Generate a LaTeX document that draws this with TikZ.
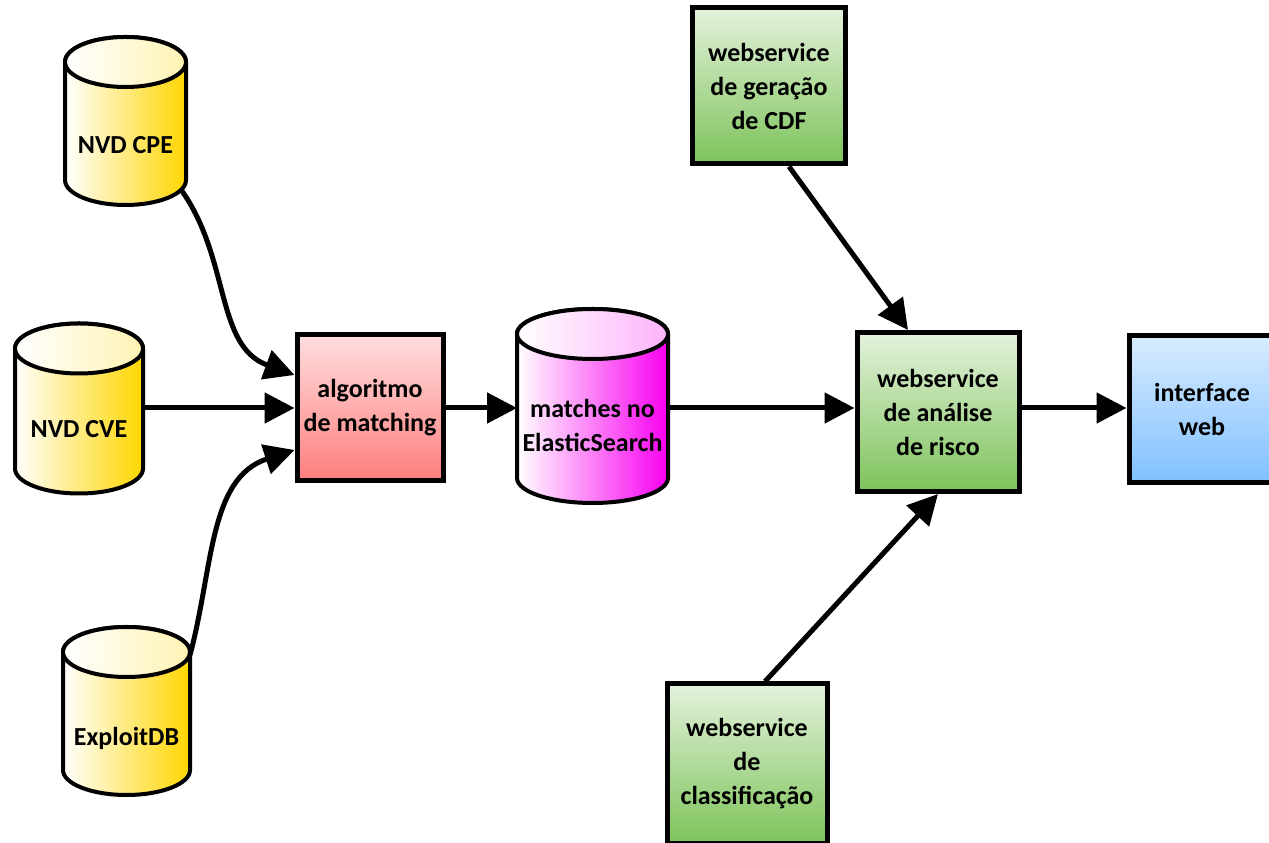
\documentclass[tikz,border=0pt]{standalone}
\usepackage{fontspec}
\setmainfont{Carlito}
\usetikzlibrary{arrows.meta}

\definecolor{dbyellow}{RGB}{255,214,0}
\definecolor{dbpink}{RGB}{248,0,240}
\definecolor{algtop}{RGB}{255,222,222}
\definecolor{algbot}{RGB}{255,125,125}
\definecolor{wstop}{RGB}{228,242,220}
\definecolor{wsbot}{RGB}{125,195,90}
\definecolor{webtop}{RGB}{216,236,255}
\definecolor{webbot}{RGB}{128,192,255}

\tikzset{
  dbline/.style={draw=black, line width=4pt},
  dbnode/.style={rectangle, inner sep=0pt, outer sep=0pt},
  box/.style={rectangle, draw=black, line width=5pt, top color=#1top,
    bottom color=#1bot, align=center, inner sep=0pt},
  flow/.style={-{Triangle[length=30pt,width=30pt]}, line width=5pt}
}

% #1 nome, #2 centro, #3 largura, #4 altura, #5 cor, #6 desvio do texto, #7 texto
\newcommand{\database}[7]{%
  \begin{scope}[shift={#2}]
    \shadedraw[dbline, left color=white, right color=#5]
      (-#3/2,#4/2-25) -- (-#3/2,-#4/2+25)
      arc[start angle=180, end angle=360, x radius=#3/2, y radius=25]
      -- (#3/2,#4/2-25)
      arc[start angle=0, end angle=180, x radius=#3/2, y radius=25] -- cycle;
    \shadedraw[dbline, left color=white, right color=#5!30]
      (0,#4/2-25) ellipse[x radius=#3/2, y radius=25];
  \end{scope}
  \node[dbnode, minimum width=#3, minimum height=#4] (#1) at #2
    {\raisebox{#6}[0pt][0pt]{\begin{tabular}{@{}c@{}}#7\end{tabular}}};
}

\begin{document}
\begin{tikzpicture}[x=1pt,y=1pt,font=\bfseries\fontsize{26}{34}\selectfont]
	\useasboundingbox (0,0) rectangle (1269,843);

	% bases de dados
	\database{cpe}{(125.5,722)}{121}{168}{dbyellow}{-32pt}{NVD CPE}
	\database{cve}{(79,434.5)}{128}{170}{dbyellow}{-28pt}{NVD CVE}
	\database{edb}{(126.5,132)}{127}{168}{dbyellow}{-34pt}{ExploitDB}
	\database{es}{(592.5,437)}{151}{194}{dbpink}{-28pt}{matches no\\ElasticSearch}

	% processos
	\node[box=alg, minimum width=146pt, minimum height=146pt] (alg) at (370,435) {algoritmo\\de matching};
	\node[box=ws, minimum width=162pt, minimum height=159pt] (risk) at (938,431) {webservice\\de análise\\de risco};
	\node[box=ws, minimum width=153pt, minimum height=156pt] (cdf) at (769,757) {webservice\\de geração\\de CDF};
	\node[box=ws, minimum width=160pt, minimum height=160pt] (cls) at (747,79) {webservice\\de\\classificação};
	\node[box=web, minimum width=146pt, minimum height=147pt] (web) at (1202,434) {interface\\web};

	% ligacoes
	\draw[flow] ([xshift=-4pt,yshift=14pt]cpe.south east) to[out=-55,in=160] ([yshift=33pt]alg.west);
	\draw[flow] (alg.west -| cve.east) -- (alg.west);
	\draw[flow] ([yshift=-28pt]edb.north east) to[out=75,in=198] ([yshift=-42pt]alg.west);
	\draw[flow] (alg.east) -- (alg.east -| es.west);
	\draw[flow] (alg.east -| es.east) -- (alg.east -| risk.west);
	\draw[flow] (alg.east -| risk.east) -- (alg.east -| web.west);
	\draw[flow] ([xshift=20pt]cdf.south) -- ([xshift=-30pt]risk.north);
	\draw[flow] ([xshift=18pt]cls.north) -- (risk.south);

\end{tikzpicture}
\end{document}
